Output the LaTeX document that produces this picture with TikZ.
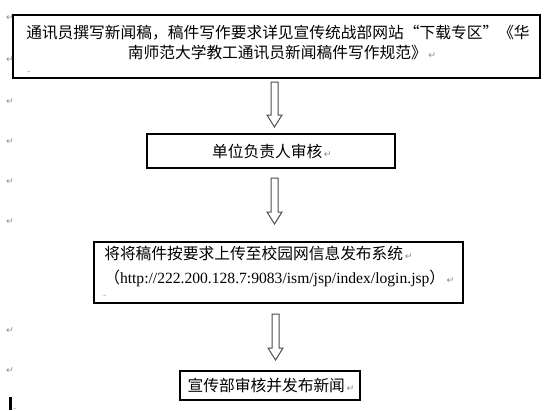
\documentclass[tikz,border=0pt]{standalone}
\usepackage{fontspec}
\setmainfont{Liberation Serif}
\newfontfamily\cjk{Noto Sans CJK SC}
\newfontfamily\symfont{DejaVu Sans}
\newcommand\parmk{{\color{black!45}\symfont\fontsize{7}{7}\selectfont\,↵}}
\newcommand\tinymk{{\color{black!45}\symfont\fontsize{3}{3}\selectfont ↵}}
\begin{document}
\begin{tikzpicture}[x=0.75pt,y=-0.75pt,
  box/.style={draw, line width=0.8pt, inner sep=0pt},
  cn/.style={font=\cjk\fontsize{11.8}{14}\selectfont, inner sep=0pt},
  marg/.style={font=\symfont\fontsize{7}{7}\selectfont, text=black!45, inner sep=0pt},
  barrow/.style={draw=black!70, fill=white, line width=0.75pt, line join=miter}]
\useasboundingbox (0,0) rectangle (547,411);
% boxes
\node[box, minimum width=395.25pt, minimum height=47.25pt] (b1) at (276.5,46.5) {};
\node[box, minimum width=186pt, minimum height=25.5pt] (b2) at (271,151) {};
\node[box, minimum width=276.75pt, minimum height=45.75pt] (b3) at (278.5,272.5) {};
\node[box, minimum width=135pt, minimum height=21.75pt] (b4) at (270,385.5) {};
% texts
\node[cn] (t1a) at (278,33) {通讯员撰写新闻稿，稿件写作要求详见宣传统战部网站“下载专区”《华};
\node[cn] (t1b) at (282,53) {南师范大学教工通讯员新闻稿件写作规范》\parmk};
\node[inner sep=0pt] (t1c) at (29,72) {\tinymk};
\node[cn] (t2) at (272,151) {单位负责人审核\parmk};
\node[cn, anchor=west] (t3a) at (104,253) {将将稿件按要求上传至校园网信息发布系统\parmk};
\node[cn, anchor=west] (t3b) at (104,278) {（{\fontspec{Liberation Serif}\fontsize{11.7}{13}\selectfont http://222.200.128.7:9083/ism/jsp/index/login.jsp}）\parmk};
\node[inner sep=0pt] (t3c) at (105,296) {\tinymk};
\node[cn] (t4) at (271,385.5) {宣传部审核并发布新闻\parmk};
% block arrows
\newcommand\blockarrow[4]{%
  \draw[barrow] (#1-3.5,#2) -- (#1+3.5,#2) -- (#1+3.5,#3) -- (#1+7.5,#3) -- (#1,#4)
    -- (#1-7.5,#3) -- (#1-3.5,#3) -- cycle;}
\blockarrow{274.5}{82}{115}{127}
\blockarrow{274.5}{178}{212}{224}
\blockarrow{275.5}{314}{348}{360}
% margin paragraph marks
\foreach \yy [count=\i] in {18,60,102,142,182,222,331,371}
  \node[marg] (m\i) at (10,\yy) {↵};
% text cursor
\draw[line width=1.6pt] (10.5,397) -- (10.5,410);
\node[inner sep=0pt] (cur) at (15,409) {\tinymk};
\end{tikzpicture}
\end{document}
